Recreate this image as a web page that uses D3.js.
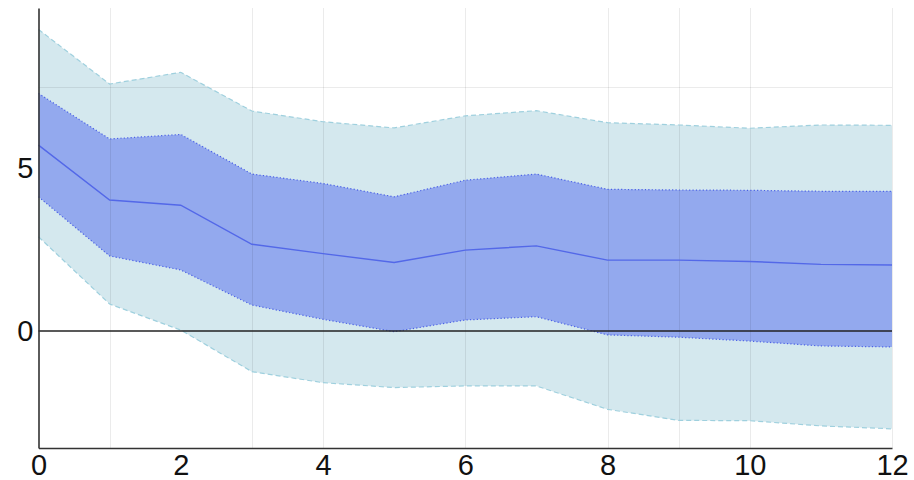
<!DOCTYPE html>
<html>
<head>
<meta charset="utf-8">
<script src="https://cdn.jsdelivr.net/npm/d3@7"></script>
<style>
  html, body { margin: 0; padding: 0; background: #ffffff; }
  svg { display: block; }
  .tick text { font-family: "Liberation Sans", Arial, sans-serif; }
</style>
</head>
<body>
<svg id="chart" width="914" height="480"></svg>
<script>
// Horizons 0..12
const horizons = [0, 1, 2, 3, 4, 5, 6, 7, 8, 9, 10, 11, 12];

// Point estimate of the response
const response = [5.72, 4.03, 3.87, 2.67, 2.38, 2.11, 2.49, 2.62, 2.18, 2.18, 2.14, 2.05, 2.03];

// Inner band
const innerUpper = [7.31, 5.91, 6.05, 4.83, 4.54, 4.13, 4.64, 4.83, 4.36, 4.34, 4.33, 4.30, 4.30];
const innerLower = [4.13, 2.31, 1.88, 0.80, 0.36, -0.02, 0.34, 0.44, -0.12, -0.19, -0.31, -0.46, -0.49];

// Outer band
const outerUpper = [9.28, 7.60, 7.96, 6.77, 6.44, 6.25, 6.62, 6.78, 6.41, 6.34, 6.24, 6.34, 6.33];
const outerLower = [2.90, 0.83, 0.03, -1.25, -1.59, -1.74, -1.69, -1.69, -2.41, -2.75, -2.76, -2.92, -3.01];

// Axis ticks and grid positions
const xTicks = [0, 2, 4, 6, 8, 10, 12];
const yTicks = [0, 5];
const xGrid = [1, 3, 4, 6, 8, 9, 10, 12];
const yGrid = [7.5];

const svg = d3.select("#chart");
const plotLeft = 38.5, plotRight = 892, plotTop = 8, plotBottom = 448;

const x = d3.scaleLinear().domain([0, 12]).range([plotLeft, plotRight]);
const y = d3.scaleLinear().domain([-3.6, 9.94]).range([plotBottom, plotTop]);

const rows = horizons.map((h, i) => ({
  h, mid: response[i],
  iu: innerUpper[i], il: innerLower[i],
  ou: outerUpper[i], ol: outerLower[i]
}));

// Outer band
svg.append("path")
  .datum(rows)
  .attr("fill", "#d4e8ee")
  .attr("d", d3.area().x(d => x(d.h)).y0(d => y(d.ol)).y1(d => y(d.ou)));

// Inner band
svg.append("path")
  .datum(rows)
  .attr("fill", "#93a9ee")
  .attr("d", d3.area().x(d => x(d.h)).y0(d => y(d.il)).y1(d => y(d.iu)));

// Grid lines, drawn lightly over the bands
const grid = svg.append("g").attr("stroke", "rgba(0,0,0,0.08)").attr("stroke-width", 1);
grid.selectAll("line.vx").data(xGrid).join("line")
  .attr("x1", d => Math.round(x(d)) + 0.5).attr("x2", d => Math.round(x(d)) + 0.5)
  .attr("y1", plotTop).attr("y2", plotBottom);
grid.selectAll("line.hy").data(yGrid).join("line")
  .attr("x1", plotLeft).attr("x2", plotRight)
  .attr("y1", d => Math.round(y(d)) + 0.5).attr("y2", d => Math.round(y(d)) + 0.5);

// Band edges
const edge = key => d3.line().x(d => x(d.h)).y(d => y(d[key]));
["ou", "ol"].forEach(k => {
  svg.append("path").datum(rows)
    .attr("fill", "none").attr("stroke", "#9fd0de").attr("stroke-width", 1.2)
    .attr("stroke-dasharray", "5,3")
    .attr("d", edge(k));
});
["iu", "il"].forEach(k => {
  svg.append("path").datum(rows)
    .attr("fill", "none").attr("stroke", "#4b61e6").attr("stroke-width", 1.2)
    .attr("stroke-dasharray", "1.2,2.2")
    .attr("d", edge(k));
});

// Point estimate
svg.append("path").datum(rows)
  .attr("fill", "none").attr("stroke", "#5368e8").attr("stroke-width", 1.4)
  .attr("d", edge("mid"));

// Zero reference line
svg.append("line")
  .attr("x1", plotLeft).attr("x2", plotRight)
  .attr("y1", y(0)).attr("y2", y(0))
  .attr("stroke", "#222").attr("stroke-width", 1.5);

// Axes
const xAxis = svg.append("g")
  .attr("transform", `translate(0,${plotBottom})`)
  .call(d3.axisBottom(x).tickValues(xTicks).tickFormat(d3.format("d")).tickSize(0).tickPadding(6));
const yAxis = svg.append("g")
  .attr("transform", `translate(${plotLeft},0)`)
  .call(d3.axisLeft(y).tickValues(yTicks).tickFormat(d3.format("d")).tickSize(0).tickPadding(5));

[xAxis, yAxis].forEach(g => {
  g.select(".domain").attr("stroke", "#333").attr("stroke-width", 1.6);
  g.selectAll(".tick text").attr("font-size", 29).attr("fill", "#111");
});
</script>
</body>
</html>
